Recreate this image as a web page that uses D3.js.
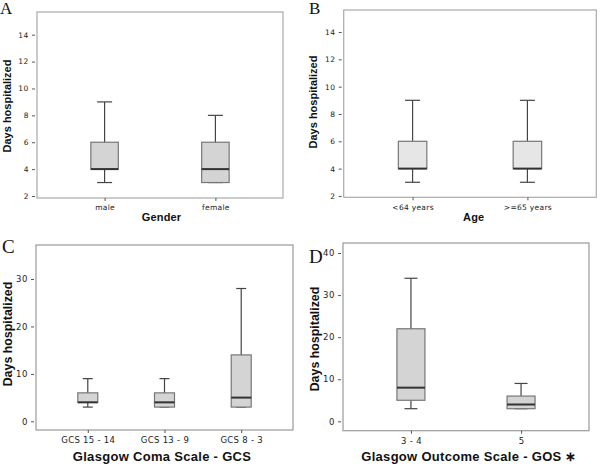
<!DOCTYPE html>
<html><head><meta charset="utf-8">
<script src="https://cdn.jsdelivr.net/npm/d3@7"></script>
<style>body{margin:0;background:#fff}svg{display:block}</style>
</head><body>
<svg id="c" width="600" height="464"></svg>
<script>
// ---- data ----
const genderCats = ["male", "female"];
const genderStats = [ // [low, q1, median, q3, high]
  [3, 4, 4, 6, 9],
  [3, 3, 4, 6, 8]
];
const ageCats = ["<64 years", ">=65 years"];
const ageStats = [
  [3, 4, 4, 6, 9],
  [3, 4, 4, 6, 9]
];
const gcsCats = ["GCS 15 - 14", "GCS 13 - 9", "GCS 8 - 3"];
const gcsStats = [
  [3, 4, 4, 6, 9],
  [3, 3, 4, 6, 9],
  [3, 3, 5, 14, 28]
];
const gosCats = ["3 - 4", "5"];
const gosStats = [
  [3, 5, 8, 22, 34],
  [3, 3, 4, 6, 9]
];
const ticksAB = [2, 4, 6, 8, 10, 12, 14];
const ticksC = [0, 10, 20, 30];
const ticksD = [0, 10, 20, 30, 40];

const svg = d3.select("#c");

function panel(o) {
  const g = svg.append("g");
  const y = d3.scaleLinear().domain(o.ydom).range([o.y1, o.y0]);
  const x = d3.scalePoint().domain(o.cats).range([o.x0, o.x1]).padding(o.pad);
  // frame
  g.append("rect").attr("x", o.x0).attr("y", o.y0)
    .attr("width", o.x1 - o.x0).attr("height", o.y1 - o.y0)
    .attr("fill", "none").attr("stroke", o.frame).attr("stroke-width", 1.2);
  // y axis
  const ya = g.append("g").attr("transform", `translate(${o.x0 - 2},0)`)
    .call(d3.axisLeft(y).tickValues(o.ticks).tickSize(3).tickPadding(3));
  ya.select(".domain").remove();
  ya.selectAll("line").attr("stroke", "#555");
  ya.selectAll("text").attr("font-family", "DejaVu Sans").attr("font-size", o.tfs)
    .attr("fill", "#222").attr("letter-spacing", 0.6);
  // x axis ticks
  const xa = g.append("g").attr("transform", `translate(0,${o.y1})`)
    .call(d3.axisBottom(x).tickSize(3).tickPadding(o.xpad));
  xa.select(".domain").remove();
  xa.selectAll("line").attr("stroke", "#555");
  xa.selectAll("text").attr("font-family", "DejaVu Sans").attr("font-size", o.tfs)
    .attr("fill", "#222").attr("letter-spacing", 0.3);
  // boxes
  o.cats.forEach((c, i) => {
    const s = o.stats[i], cx = x(c);
    g.append("line").attr("x1", cx).attr("x2", cx).attr("y1", y(s[0])).attr("y2", y(s[4]))
      .attr("stroke", "#444").attr("stroke-width", 1.2);
    [s[0], s[4]].forEach(v => g.append("line").attr("x1", cx - o.cap / 2).attr("x2", cx + o.cap / 2)
      .attr("y1", y(v)).attr("y2", y(v)).attr("stroke", "#444").attr("stroke-width", 1.2));
    g.append("rect").attr("x", cx - o.bw / 2).attr("y", y(s[3]))
      .attr("width", o.bw).attr("height", y(s[1]) - y(s[3]))
      .attr("fill", o.fill).attr("stroke", "#777").attr("stroke-width", 1.2);
    g.append("line").attr("x1", cx - o.bw / 2).attr("x2", cx + o.bw / 2)
      .attr("y1", y(s[2])).attr("y2", y(s[2])).attr("stroke", "#333").attr("stroke-width", 2);
  });
  // titles
  g.append("text").attr("transform", `translate(${o.ytx},${o.yty}) rotate(-90)`)
    .attr("text-anchor", "middle").attr("dominant-baseline", "central")
    .attr("font-family", "Liberation Sans").attr("font-weight", "bold")
    .attr("font-size", o.yfs).attr("fill", "#111").text("Days hospitalized");
  g.append("text").attr("x", o.xtx).attr("y", o.xty).attr("text-anchor", "middle")
    .attr("font-family", "Liberation Sans").attr("font-weight", "bold")
    .attr("font-size", o.xfs).attr("fill", "#111").attr("letter-spacing", o.xls).text(o.xtitle);
  g.append("text").attr("x", o.lx).attr("y", o.ly)
    .attr("font-family", "Liberation Serif").attr("font-size", o.lfs)
    .attr("fill", "#111").text(o.letter);
}

panel({cats: genderCats, stats: genderStats, ticks: ticksAB, ydom: [1.85, 15.69],
  x0: 37, x1: 283, y0: 12, y1: 198, pad: 0.61, bw: 27.5, cap: 15, fill: "#d4d4d4", frame: "#aaa",
  tfs: 7.5, xpad: 4, yfs: 11, ytx: 7, yty: 106, xtitle: "Gender", xtx: 161.5, xty: 221, xfs: 11, xls: 0.2,
  letter: "A", lx: 0, ly: 14, lfs: 17});
panel({cats: ageCats, stats: ageStats, ticks: ticksAB, ydom: [1.9, 15.61],
  x0: 343.7, x1: 596.3, y0: 10, y1: 197.3, pad: 0.6, bw: 28.5, cap: 15, fill: "#e6e6e6", frame: "#aaa",
  tfs: 7.5, xpad: 4, yfs: 11, ytx: 313, yty: 102, xtitle: "Age", xtx: 473.7, xty: 220.5, xfs: 11, xls: 0.2,
  letter: "B", lx: 309, ly: 14, lfs: 17});
panel({cats: gcsCats, stats: gcsStats, ticks: ticksC, ydom: [-1.83, 37.17],
  x0: 36, x1: 293, y0: 245, y1: 430, pad: 0.675, bw: 20, cap: 10, fill: "#d4d4d4", frame: "#999",
  tfs: 8.5, xpad: 4, yfs: 12.4, ytx: 7.5, yty: 334, xtitle: "Glasgow Coma Scale - GCS", xtx: 162, xty: 461, xfs: 13, xls: 0.3,
  letter: "C", lx: 2, ly: 253, lfs: 19});
panel({cats: gosCats, stats: gosStats, ticks: ticksD, ydom: [-2.23, 42.38],
  x0: 343, x1: 589, y0: 243, y1: 430.7, pad: 0.617, bw: 28, cap: 13, fill: "#d4d4d4", frame: "#999",
  tfs: 8.5, xpad: 4, yfs: 12.4, ytx: 315, yty: 339, xtitle: "Glasgow Outcome Scale - GOS \u2217", xtx: 469, xty: 461, xfs: 13, xls: 0.3,
  letter: "D", lx: 309, ly: 263, lfs: 19});
</script>
</body></html>
